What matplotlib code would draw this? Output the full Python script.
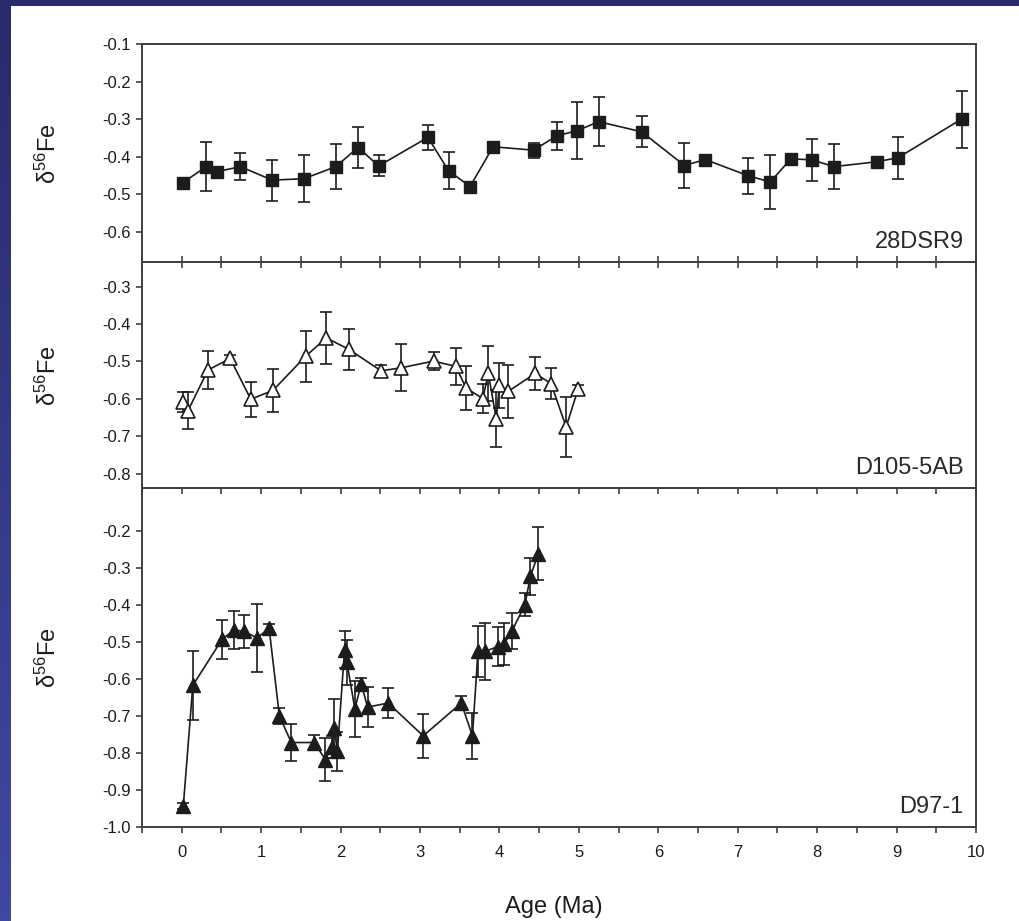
import numpy as np
import matplotlib
matplotlib.use("Agg")
import matplotlib.pyplot as plt
from matplotlib.patches import Rectangle
from matplotlib.ticker import MultipleLocator, FormatStrFormatter

plt.rcParams["font.family"] = ["Liberation Sans", "DejaVu Sans"]
plt.rcParams["mathtext.fontset"] = "custom"
plt.rcParams["mathtext.rm"] = "Liberation Sans"
plt.rcParams["mathtext.it"] = "Liberation Sans"
plt.rcParams["axes.unicode_minus"] = False

INK = "#1c1c1c"
SPINE = "#404040"

# ---------------------------------------------------------------- data
# 28DSR9 (filled squares)
age_28 = [0.01, 0.31, 0.45, 0.74, 1.14, 1.54, 1.94, 2.22, 2.48, 3.10, 3.36, 3.63, 3.92, 4.43,
          4.72, 4.98, 5.25, 5.79, 6.33, 6.59, 7.13, 7.41, 7.67, 7.94, 8.21, 8.75, 9.02, 9.82]
fe_28 = [-0.470, -0.427, -0.440, -0.427, -0.463, -0.459, -0.427, -0.376, -0.425, -0.349,
         -0.438, -0.480, -0.374, -0.383, -0.345, -0.331, -0.307, -0.334, -0.424, -0.408,
         -0.451, -0.468, -0.406, -0.409, -0.427, -0.414, -0.403, -0.300]
err_28 = [0.008, 0.066, 0.010, 0.036, 0.055, 0.063, 0.060, 0.054, 0.028, 0.034, 0.049, 0.010,
          0.013, 0.020, 0.037, 0.076, 0.065, 0.041, 0.061, 0.010, 0.048, 0.072, 0.010, 0.055,
          0.060, 0.010, 0.056, 0.076]

# D105-5AB (open triangles)
age_105 = [0.01, 0.08, 0.33, 0.61, 0.87, 1.15, 1.56, 1.82, 2.10, 2.51, 2.76, 3.17, 3.45, 3.58,
           3.79, 3.86, 3.96, 4.00, 4.11, 4.45, 4.65, 4.84, 4.99]
fe_105 = [-0.608, -0.631, -0.523, -0.492, -0.601, -0.577, -0.486, -0.437, -0.467, -0.525,
          -0.517, -0.499, -0.513, -0.571, -0.599, -0.532, -0.653, -0.564, -0.580, -0.532,
          -0.559, -0.675, -0.574]
err_105 = [0.027, 0.050, 0.050, 0.010, 0.046, 0.058, 0.068, 0.070, 0.055, 0.015, 0.063, 0.023,
           0.049, 0.058, 0.038, 0.074, 0.076, 0.060, 0.070, 0.043, 0.042, 0.080, 0.010]

# D97-1 (filled triangles)
age_97 = [0.02, 0.14, 0.51, 0.66, 0.79, 0.95, 1.10, 1.23, 1.38, 1.67, 1.81, 1.89, 1.92, 1.96,
          2.05, 2.08, 2.18, 2.26, 2.34, 2.60, 3.04, 3.52, 3.66, 3.73, 3.82, 3.98, 4.06, 4.16,
          4.32, 4.39, 4.49]
fe_97 = [-0.944, -0.617, -0.492, -0.467, -0.471, -0.489, -0.462, -0.700, -0.772, -0.772,
         -0.819, -0.783, -0.733, -0.796, -0.521, -0.555, -0.681, -0.613, -0.676, -0.665,
         -0.754, -0.665, -0.754, -0.525, -0.525, -0.512, -0.504, -0.469, -0.399, -0.322, -0.260]
err_97 = [0.008, 0.094, 0.053, 0.051, 0.044, 0.093, 0.012, 0.021, 0.049, 0.020, 0.058, 0.030,
          0.080, 0.053, 0.050, 0.060, 0.075, 0.017, 0.055, 0.040, 0.060, 0.020, 0.063, 0.070,
          0.078, 0.053, 0.057, 0.049, 0.031, 0.051, 0.071]

# y tick values shown on each panel
yticks_28 = [-0.6, -0.5, -0.4, -0.3, -0.2, -0.1]
yticks_105 = [-0.8, -0.7, -0.6, -0.5, -0.4, -0.3]
yticks_97 = [-1.0, -0.9, -0.8, -0.7, -0.6, -0.5, -0.4, -0.3, -0.2]

# ---------------------------------------------------------------- figure + frame
W, H = 1019, 921
fig = plt.figure(figsize=(W / 100, H / 100), dpi=100)

bg = fig.add_axes([0, 0, 1, 1], zorder=-10)
grad = np.linspace(0, 1, 256).reshape(-1, 1)
cmap = matplotlib.colors.LinearSegmentedColormap.from_list("frame", ["#292b6c", "#4148a2"])
bg.imshow(grad, extent=[0, 1, 0, 1], aspect="auto", cmap=cmap, origin="upper")
bg.add_patch(Rectangle((11 / W, 0), 1, 1 - 6 / H, facecolor="white", edgecolor="none"))
bg.set_xlim(0, 1)
bg.set_ylim(0, 1)
bg.axis("off")

left, width = 142 / W, (976 - 142) / W
panels = [
    (44, 262.3),
    (262.3, 487.8),
    (487.8, 826.7),
]
axes = []
for top, bot in panels:
    ax = fig.add_axes([left, 1 - bot / H, width, (bot - top) / H])
    ax.set_facecolor("none")
    axes.append(ax)
ax1, ax2, ax3 = axes

eb_kw = dict(color=INK, lw=1.2, elinewidth=1.2, capsize=4.5, capthick=1.2)
ax1.errorbar(age_28, fe_28, yerr=err_28, fmt="-s", ms=8.5, mfc=INK, mec=INK, **eb_kw)
ax2.errorbar(age_105, fe_105, yerr=err_105, fmt="-^", ms=10.5, mfc="white", mec=INK,
             mew=1.2, **eb_kw)
ax3.errorbar(age_97, fe_97, yerr=err_97, fmt="-^", ms=10, mfc=INK, mec=INK, **eb_kw)

ylims = [(-0.682, -0.1), (-0.8375, -0.235), (-1.0, -0.082)]
yticks = [yticks_28, yticks_105, yticks_97]
names = ["28DSR9", "D105-5AB", "D97-1"]
for ax, yl, yt, name in zip(axes, ylims, yticks, names):
    ax.set_xlim(-0.5, 10)
    ax.set_ylim(*yl)
    ax.xaxis.set_major_locator(MultipleLocator(1))
    ax.xaxis.set_minor_locator(MultipleLocator(0.5))
    ax.set_yticks(yt)
    ax.yaxis.set_major_formatter(FormatStrFormatter("%.1f"))
    for s in ax.spines.values():
        s.set_color(SPINE)
        s.set_linewidth(1.4)
    ax.tick_params(axis="y", direction="out", length=4, width=1.2, color=SPINE,
                   labelsize=12, pad=4, labelcolor=INK)
    ax.set_ylabel(r"$\mathregular{\delta^{56}Fe}$", fontsize=17, color=INK)
    ax.yaxis.set_label_coords(-0.097, 0.5)
    ax.annotate(name, xy=(1, 0), xycoords="axes fraction", xytext=(-9, 10),
                textcoords="offset points", ha="right", va="baseline",
                fontsize=17, color="#2a2a2a")

ax1.tick_params(axis="x", which="both", direction="inout", length=9, width=1.2,
                color=SPINE, labelbottom=False)
ax2.tick_params(axis="x", which="both", direction="out", length=4.5, width=1.2,
                color=SPINE, labelbottom=False)
ax3.tick_params(axis="x", which="both", direction="out", length=4.5, width=1.2,
                color=SPINE, labelsize=12, pad=9, labelcolor=INK)

fig.text(554 / W, 1 - 907 / H, "Age (Ma)", ha="center", va="center", fontsize=17, color=INK)

plt.savefig("out.png", dpi=100)
plt.close(fig)
